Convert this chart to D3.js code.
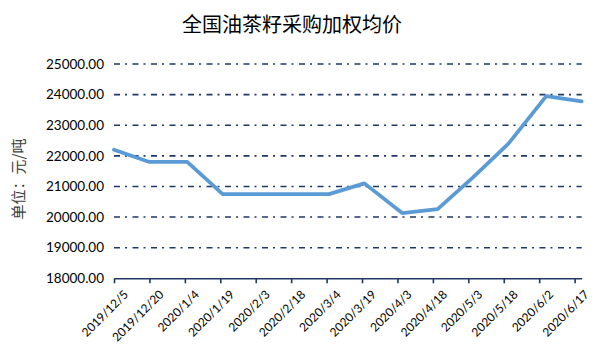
<!DOCTYPE html>
<html><head><meta charset="utf-8">
<script src="https://cdn.jsdelivr.net/npm/d3@7"></script>
<style>body{margin:0;background:#fff;}svg{display:block;}</style>
</head><body><div id="chart"></div>
<script>
const title = "全国油茶籽采购加权均价";
const yLabel = "单位：元/吨";
const dates = ["2019-12-05","2019-12-20","2020-01-05","2020-01-20","2020-02-05","2020-02-20","2020-03-05","2020-03-20","2020-04-05","2020-04-20","2020-05-05","2020-05-20","2020-06-05","2020-06-20"];
const prices = [22200,21800,21800,20750,20750,20750,20750,21100,20130,20260,21300,22400,23950,23780];
const tickLabels = ["2019/12/5","2019/12/20","2020/1/4","2020/1/19","2020/2/3","2020/2/18","2020/3/4","2020/3/19","2020/4/3","2020/4/18","2020/5/3","2020/5/18","2020/6/2","2020/6/17"];
const yTicks = [18000,19000,20000,21000,22000,23000,24000,25000];
const xDomain = ["2019-12-05","2020-06-20"];

const W = 600, H = 358;
const parse = d3.timeParse("%Y-%m-%d");
const parseTick = d3.timeParse("%Y/%m/%d");
const svg = d3.select("#chart").append("svg").attr("width", W).attr("height", H);

const x = d3.scaleTime().domain(xDomain.map(parse)).range([114, 581.7]);
const y = d3.scaleLinear().domain([18000, 25000]).range([278.3, 64]);

// gridlines
svg.append("g").selectAll("line").data(yTicks.slice(1)).join("line")
  .attr("x1", 114).attr("x2", 581.7)
  .attr("y1", d => y(d)).attr("y2", d => y(d))
  .attr("stroke", "#1f3864").attr("stroke-width", 1.6)
  .attr("stroke-dasharray", "6,5,2,5.5");

// y tick labels
svg.append("g").selectAll("text").data(yTicks).join("text")
  .attr("x", 104).attr("y", d => y(d)).attr("dy", "0.35em")
  .attr("text-anchor", "end")
  .attr("font-family", "Lato, 'Liberation Sans', sans-serif")
  .attr("font-size", 13.5).attr("fill", "#000")
  .text(d => d3.format(".2f")(d));

// x axis
const xAxis = d3.axisBottom(x)
  .tickValues(tickLabels.map(parseTick))
  .tickSize(5).tickSizeOuter(0)
  .tickFormat("");
const gx = svg.append("g").attr("transform", `translate(0,${y(18000)})`).call(xAxis);
gx.select(".domain").attr("stroke", "#1f3864").attr("stroke-width", 1.6);
gx.selectAll(".tick line").attr("stroke", "#1f3864").attr("stroke-width", 1.6);

svg.append("g").selectAll("text").data(tickLabels).join("text")
  .attr("transform", d => `translate(${x(parseTick(d)) + 12},${y(18000) + 14}) rotate(-45)`)
  .attr("text-anchor", "end").attr("dy", "0.35em")
  .attr("font-family", "Lato, 'Liberation Sans', sans-serif")
  .attr("font-size", 12).attr("fill", "#000")
  .text(d => d);

// line
const line = d3.line().x((d, i) => x(parse(dates[i]))).y(d => y(d));
svg.append("path").datum(prices)
  .attr("d", line).attr("fill", "none")
  .attr("stroke", "#5b9bd5").attr("stroke-width", 3.75)
  .attr("stroke-linejoin", "round").attr("stroke-linecap", "round");

// title
svg.append("text").attr("x", 292).attr("y", 32).attr("text-anchor", "middle")
  .attr("font-family", "'Noto Sans CJK SC', sans-serif").attr("font-size", 20)
  .attr("fill", "#000").text(title);

// y label
svg.append("text").attr("transform", "translate(24,179) rotate(-90)")
  .attr("text-anchor", "middle")
  .attr("font-family", "'Noto Sans CJK SC', sans-serif").attr("font-size", 15)
  .attr("fill", "#404040").text(yLabel);
</script></body></html>
